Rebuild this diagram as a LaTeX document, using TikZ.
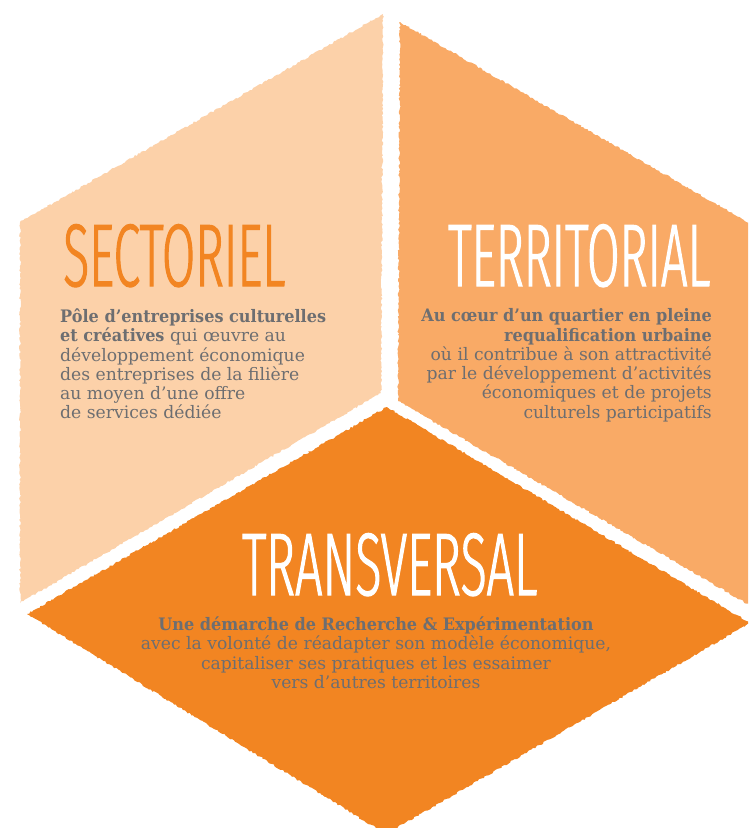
\documentclass[tikz,border=0pt]{standalone}
\usepackage{fontspec}
\setmainfont{DejaVu Serif}[BoldFeatures={FakeStretch=0.935}]
\newfontfamily\titlefont{Fira Sans Light}[FakeStretch=0.53, FakeBold=1.2]
\usetikzlibrary{decorations.pathmorphing}
\definecolor{peach}{HTML}{FCD1A9}
\definecolor{midor}{HTML}{F9AA66}
\definecolor{deepor}{HTML}{F28522}
\definecolor{txtgray}{HTML}{6D6E71}
\begin{document}
\begin{tikzpicture}[x=1pt,y=-1pt,
  torn/.style={decorate, decoration={random steps, segment length=2pt, amplitude=0.9pt}},
  titlebox/.style={inner sep=0pt, anchor=north west},
  titlefnt/.style={font=\titlefont\fontsize{90}{90}\selectfont},
  body/.style={inner sep=0pt, text=txtgray, font=\fontsize{17.2}{19.3}\selectfont}]
\useasboundingbox (0,0) rectangle (748,828);
\clip (0,0) rectangle (748,828);
\fill[peach, torn] (383,14) -- (20,222) -- (20,603) -- (381,393) -- cycle;
\fill[midor, torn] (400,22) -- (758,228) -- (758,610) -- (398,401) -- cycle;
\fill[deepor, torn] (27,614) -- (387,407) -- (750,623) -- (386,834) -- cycle;
\node[titlebox, titlefnt, text=deepor] (sect) at (63,224) {\resizebox{222pt}{62pt}{SECTORIEL}};
\node[titlebox, titlefnt, text=white] (terr) at (448,224) {\resizebox{262pt}{62pt}{TERRITORIAL}};
\node[titlebox, titlefnt, text=white] (trans) at (242,533) {\resizebox{295pt}{62pt}{TRANSVERSAL}};
\node[body, align=left, anchor=north west] (sectxt) at (60,308.5) {\textbf{Pôle d’entreprises culturelles}\\\textbf{et créatives} qui œuvre au\\développement économique\\des entreprises de la filière\\au moyen d’une offre\\de services dédiée};
\node[body, align=right, anchor=north east] (terrtxt) at (712,308.5) {\textbf{Au cœur d’un quartier en pleine}\\\textbf{requalification urbaine}\\où il contribue à son attractivité\\par le développement d’activités\\économiques et de projets\\culturels participatifs};
\node[body, align=center, anchor=north] (transtxt) at (376,616.5) {\textbf{Une démarche de Recherche \& Expérimentation}\\avec la volonté de réadapter son modèle économique,\\capitaliser ses pratiques et les essaimer\\vers d’autres territoires};
\end{tikzpicture}
\end{document}
